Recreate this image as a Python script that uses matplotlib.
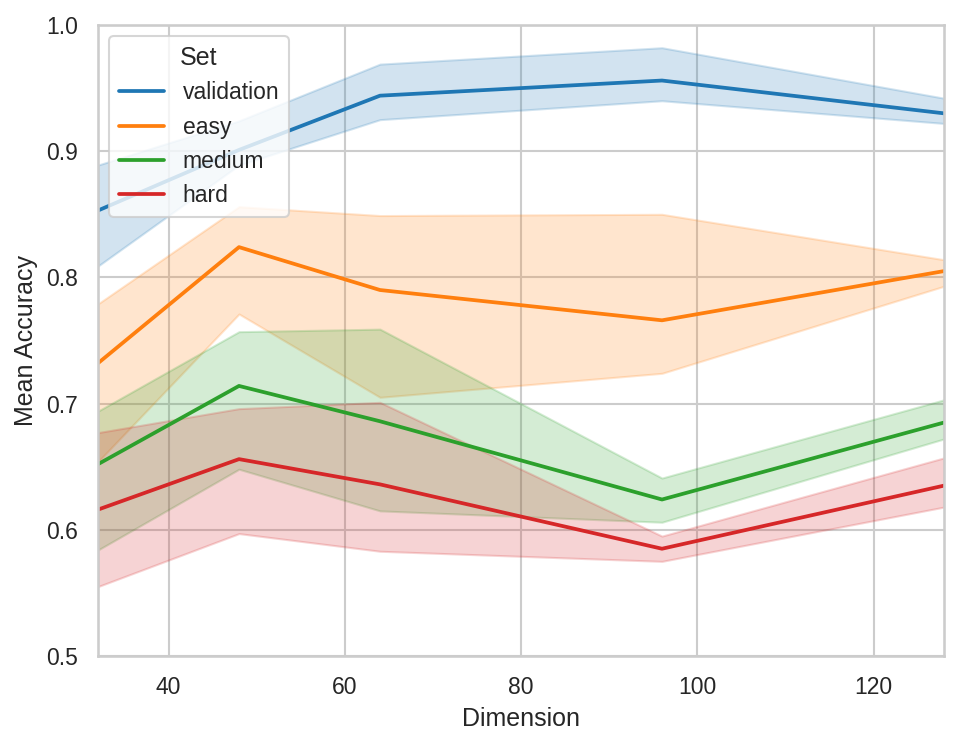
import matplotlib
matplotlib.use("Agg")
import matplotlib.pyplot as plt
import seaborn as sns

sns.set_theme(style="whitegrid", context="notebook")
plt.rcParams['font.family'] = ['Liberation Sans', 'DejaVu Sans']

dims = [32, 48, 64, 96, 128]
sets = ["validation", "easy", "medium", "hard"]
colors = ["#1f77b4", "#ff7f0e", "#2ca02c", "#d62728"]

mean_validation = [0.853, 0.901, 0.944, 0.956, 0.930]
low_validation = [0.809, 0.889, 0.925, 0.940, 0.922]
high_validation = [0.889, 0.924, 0.969, 0.982, 0.942]

mean_easy = [0.732, 0.824, 0.790, 0.766, 0.805]
low_easy = [0.654, 0.771, 0.705, 0.724, 0.793]
high_easy = [0.779, 0.856, 0.849, 0.850, 0.814]

mean_medium = [0.652, 0.714, 0.686, 0.624, 0.685]
low_medium = [0.584, 0.648, 0.615, 0.606, 0.672]
high_medium = [0.694, 0.757, 0.759, 0.641, 0.703]

mean_hard = [0.616, 0.656, 0.636, 0.585, 0.635]
low_hard = [0.555, 0.597, 0.583, 0.575, 0.618]
high_hard = [0.677, 0.696, 0.701, 0.595, 0.657]

means = [mean_validation, mean_easy, mean_medium, mean_hard]
lows = [low_validation, low_easy, low_medium, low_hard]
highs = [high_validation, high_easy, high_medium, high_hard]

fig = plt.figure(figsize=(969 / 150, 742 / 150), dpi=150)
ax = fig.add_axes([98 / 969, 1 - 656 / 742, (944 - 98) / 969, (656 - 25) / 742])

for name, c, m, lo, hi in zip(sets, colors, means, lows, highs):
    ax.plot(dims, m, color=c, lw=1.8, label=name)
    ax.fill_between(dims, lo, hi, color=c, alpha=0.2)

ax.set_xlim(32, 128)
ax.set_ylim(0.5, 1.0)
ax.set_xticks([40, 60, 80, 100, 120])
ax.set_yticks([0.5, 0.6, 0.7, 0.8, 0.9, 1.0])
ax.set_yticklabels(["0.5", "0.6", "0.7", "0.8", "0.9", "1.0"])
ax.set_xlabel("Dimension")
ax.set_ylabel("Mean Accuracy")
ax.legend(title="Set", loc="upper left")

fig.savefig("out.png", dpi=150)
